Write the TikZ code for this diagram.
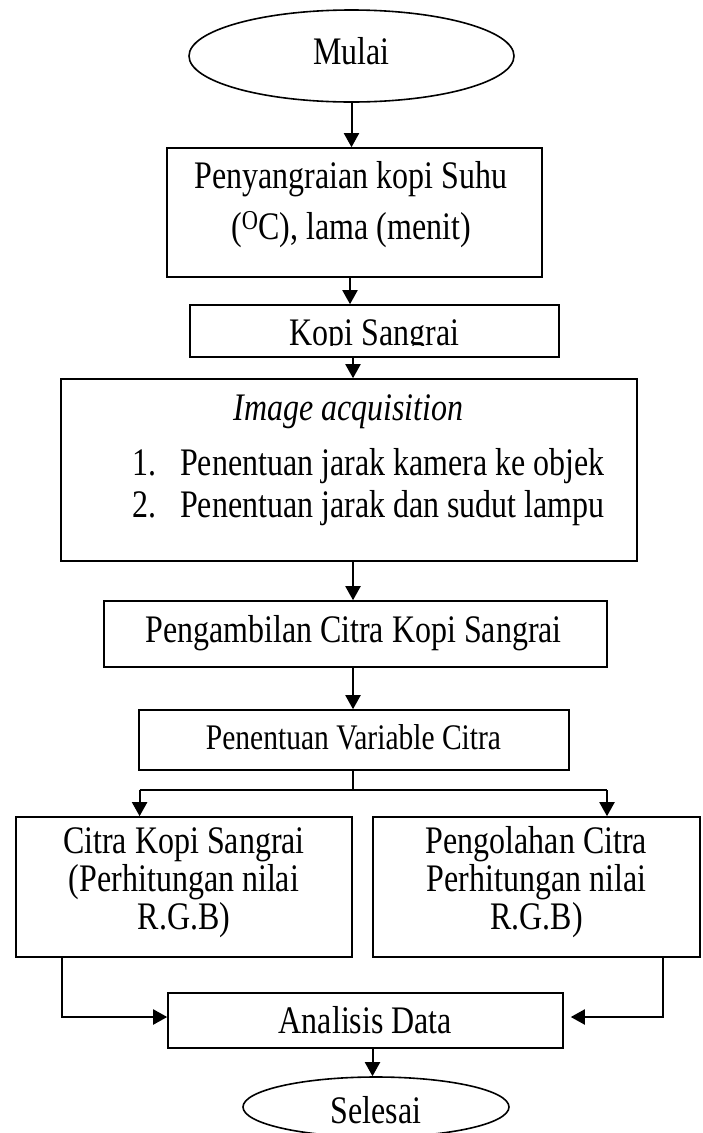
\documentclass[tikz,border=0pt]{standalone}
\usepackage{fontspec}
\setmainfont{Liberation Serif}[FakeStretch=0.82]
\usetikzlibrary{arrows.meta,calc,shapes.geometric}
\begin{document}
\begin{tikzpicture}[x=1pt,y=-1pt,
  box/.style={draw, line width=1.6pt, inner sep=0pt, rectangle},
  oval/.style={draw, line width=1.6pt, inner sep=0pt, ellipse},
  txt/.style={anchor=base, inner sep=0pt, font=\fontsize{39}{45}\selectfont},
  smalltxt/.style={anchor=base, inner sep=0pt, font=\fontsize{36}{42}\selectfont},
  arr/.style={line width=2pt, -{Triangle[length=14pt,width=15pt]}},
  ln/.style={line width=2pt}]
\useasboundingbox (0,0) rectangle (702,1133);
% shapes
\node[oval, minimum width=325pt, minimum height=92pt] (e1) at (351.5,56) {};
\node[box, minimum width=375pt, minimum height=129pt] (b1) at (354.5,212.5) {};
\node[box, minimum width=369pt, minimum height=52pt] (b2) at (374.5,331) {};
\node[box, minimum width=576pt, minimum height=182pt] (b3) at (349,470) {};
\node[box, minimum width=503pt, minimum height=66pt] (b4) at (355.5,634) {};
\node[box, minimum width=430pt, minimum height=60pt] (b5) at (354,740) {};
\node[box, minimum width=336pt, minimum height=140pt] (b6) at (184,887) {};
\node[box, minimum width=327pt, minimum height=140pt] (b7) at (536.5,887) {};
\node[box, minimum width=395pt, minimum height=55pt] (b8) at (365.5,1020.5) {};
\node[oval, minimum width=266pt, minimum height=60pt] (e2) at (376,1107) {};
% texts
\node[txt] (t0) at (351.5,64) {Mulai};
\node[txt] (t1a) at (351,188) {Penyangraian kopi Suhu};
\node[txt] (t1b) at (351,239) {(\textsuperscript{O}C), lama (menit)};
\begin{scope}
  \clip (190,300) rectangle (560,345.5);
  \node[txt] (t2) at (374.5,345) {Kopi Sangrai};
\end{scope}
\node[txt] (t3) at (348.5,420) {\itshape Image acquisition};
\node[txt, anchor=base west] (n1) at (132,475) {1.};
\node[txt, anchor=base west] (i1) at (180,475) {Penentuan jarak kamera ke objek};
\node[txt, anchor=base west] (n2) at (132,517) {2.};
\node[txt, anchor=base west] (i2) at (180,517) {Penentuan jarak dan sudut lampu};
\node[txt] (t4) at (353.5,642) {Pengambilan Citra Kopi Sangrai};
\node[smalltxt] (t5) at (353.5,749) {Penentuan Variable Citra};
\node[txt] (t6a) at (184,853) {Citra Kopi Sangrai};
\node[txt] (t6b) at (184,891) {(Perhitungan nilai};
\node[txt] (t6c) at (184,929) {R.G.B)};
\node[txt] (t7a) at (536.5,853) {Pengolahan Citra};
\node[txt] (t7b) at (536.5,891) {Perhitungan nilai};
\node[txt] (t7c) at (536.5,929) {R.G.B)};
\node[txt] (t8) at (365.5,1033) {Analisis Data};
\node[txt] (t9) at (376,1123) {Selesai};
% connectors
\coordinate (a1) at (350,0);
\coordinate (a2) at (353,0);
\coordinate (a3) at (372.5,0);
\coordinate (sl) at (139.6,790);
\coordinate (sr) at (607,790);
\coordinate (cl) at (62,1017);
\coordinate (cr) at (663,1017);
\draw[arr] (e1.south) -- (e1.south |- b1.north);
\draw[arr] (a1 |- b1.south) -- (a1 |- b2.north);
\draw[arr] (a2 |- b2.south) -- (a2 |- b3.north);
\draw[arr] (a2 |- b3.south) -- (a2 |- b4.north);
\draw[arr] (a2 |- b4.south) -- (a2 |- b5.north);
\draw[ln] (a2 |- b5.south) -- (a2 |- sl);
\draw[ln] (sl) -- (sr);
\draw[arr] (sl) -- (sl |- b6.north);
\draw[arr] (sr) -- (sr |- b7.north);
\draw[arr] (cl |- b6.south) -- (cl) -- (cl -| b8.west);
\draw[arr] (cr |- b7.south) -- (cr) -- ($(cr -| b8.east)+(7,0)$);
\draw[arr] (a3 |- b8.south) -- (a3 |- e2.north);
\end{tikzpicture}
\end{document}
